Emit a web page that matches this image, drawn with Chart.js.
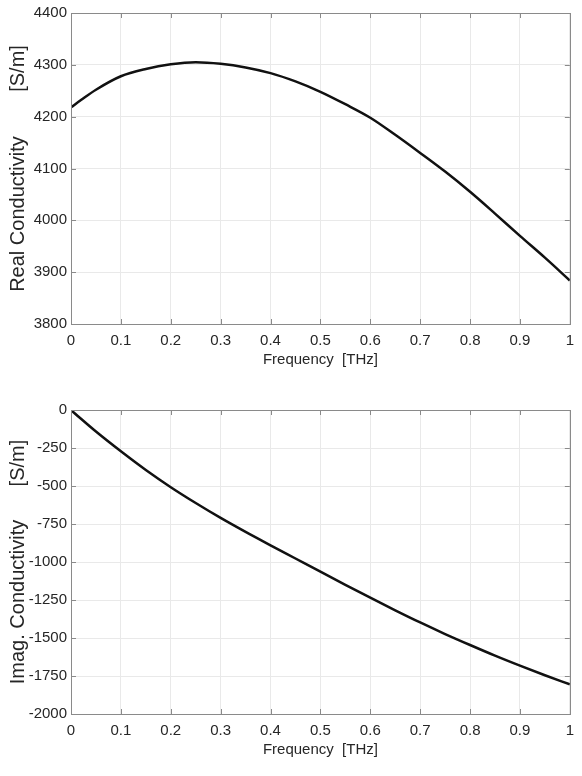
<!DOCTYPE html>
<html>
<head>
<meta charset="utf-8">
<script src="https://cdn.jsdelivr.net/npm/chart.js@4.4.1/dist/chart.umd.min.js"></script>
<style>
  html, body { margin: 0; padding: 0; background: #fff; }
  canvas { display: block; }
</style>
</head>
<body>
<canvas id="realChart" width="582" height="388"></canvas>
<canvas id="imagChart" width="582" height="388"></canvas>
<script>
// frequency samples [THz]
const freq = [0, 0.02, 0.05, 0.1, 0.15, 0.2, 0.25, 0.3, 0.35, 0.4, 0.45, 0.5, 0.55, 0.6, 0.65, 0.7, 0.75, 0.8, 0.85, 0.9, 0.95, 1];
// real conductivity [S/m]
const realSigma = [4218, 4232, 4252, 4278, 4292, 4301, 4305, 4302, 4295, 4284, 4268, 4248, 4224, 4198, 4165, 4130, 4094, 4055, 4013, 3970, 3928, 3884];
// imaginary conductivity [S/m]
const imagSigma = [0, -58, -142, -272, -395, -508, -612, -710, -802, -890, -977, -1064, -1150, -1235, -1318, -1398, -1474, -1546, -1616, -1682, -1745, -1805];

const xTickLabels = ['0', '0.1', '0.2', '0.3', '0.4', '0.5', '0.6', '0.7', '0.8', '0.9', '1'];
const realTickLabels = ['3800', '3900', '4000', '4100', '4200', '4300', '4400'];
const imagTickLabels = ['-2000', '-1750', '-1500', '-1250', '-1000', '-750', '-500', '-250', '0'];

const FONT = "'Liberation Sans', Arial, sans-serif";
const AXIS_COLOR = '#8a8a8a';

// matlab style box + inward ticks
const boxTicks = {
    id: 'boxTicks',
    afterDraw(chart) {
        const { ctx, chartArea: a, scales } = chart;
        const len = 5;
        ctx.save();
        ctx.strokeStyle = AXIS_COLOR;
        ctx.lineWidth = 1;
        ctx.beginPath();
        scales.x.ticks.forEach((t, i) => {
            const px = Math.round(scales.x.getPixelForTick(i)) + 0.5;
            ctx.moveTo(px, a.bottom); ctx.lineTo(px, a.bottom - len);
            ctx.moveTo(px, a.top); ctx.lineTo(px, a.top + len);
        });
        scales.y.ticks.forEach((t, i) => {
            const py = Math.round(scales.y.getPixelForTick(i)) + 0.5;
            ctx.moveTo(a.left, py); ctx.lineTo(a.left + len, py);
            ctx.moveTo(a.right, py); ctx.lineTo(a.right - len, py);
        });
        ctx.stroke();
        ctx.strokeRect(Math.round(a.left) + 0.5, Math.round(a.top) + 0.5,
            Math.round(a.right - a.left), Math.round(a.bottom - a.top));
        ctx.restore();
    }
};

function makeChart(id, values, yMin, yMax, yStep, yLabels, yTitle, padTop, padRight, xAxisH, xTitlePad) {
    new Chart(document.getElementById(id), {
        type: 'line',
        data: {
            datasets: [{
                data: freq.map((f, i) => ({ x: f, y: values[i] })),
                borderColor: '#111',
                borderWidth: 2.5,
                pointRadius: 0,
                fill: false,
                cubicInterpolationMode: 'monotone'
            }]
        },
        options: {
            responsive: false,
            animation: false,
            devicePixelRatio: 1,
            layout: { padding: { top: padTop, right: padRight, left: 0, bottom: 0 } },
            plugins: { legend: { display: false }, tooltip: { enabled: false } },
            scales: {
                x: {
                    type: 'linear', min: 0, max: 1,
                    ticks: {
                        stepSize: 0.1, color: '#262626', padding: 8,
                        font: { family: FONT, size: 15 },
                        maxRotation: 0,
                        callback: (v, i) => xTickLabels[i]
                    },
                    grid: { color: '#e9e9e9', drawTicks: false },
                    border: { display: false },
                    title: {
                        display: true, text: 'Frequency  [THz]', color: '#262626',
                        font: { family: FONT, size: 15 }, padding: { top: 0, bottom: xTitlePad }
                    },
                    afterFit: s => { s.height = xAxisH; }
                },
                y: {
                    min: yMin, max: yMax,
                    ticks: {
                        stepSize: yStep, color: '#262626', padding: 4,
                        font: { family: FONT, size: 15 },
                        callback: (v, i) => yLabels[i]
                    },
                    grid: { color: '#e9e9e9', drawTicks: false },
                    border: { display: false },
                    title: {
                        display: true, text: yTitle, color: '#262626',
                        font: { family: FONT, size: 20 }, padding: { top: 6, bottom: 0 }
                    },
                    afterFit: s => { s.width = 71; }
                }
            }
        },
        plugins: [boxTicks]
    });
}

makeChart('realChart', realSigma, 3800, 4400, 100, realTickLabels, 'Real Conductivity        [S/m]', 6, 11, 64, 19);
makeChart('imagChart', imagSigma, -2000, 0, 250, imagTickLabels, 'Imag. Conductivity      [S/m]', 22, 10, 62, 17);
</script>
</body>
</html>
